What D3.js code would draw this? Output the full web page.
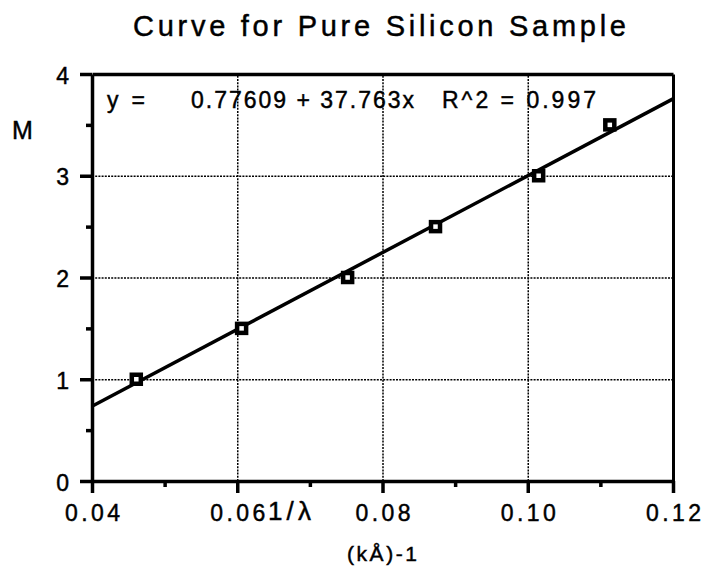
<!DOCTYPE html>
<html>
<head>
<meta charset="utf-8">
<script src="https://cdn.jsdelivr.net/npm/d3@7/dist/d3.min.js"></script>
<style>
  html, body { margin: 0; padding: 0; background: #fff; }
  svg { display: block; font-family: "Liberation Sans", Arial, Helvetica, sans-serif; }
  svg text { fill: #000; stroke: #000; stroke-width: 0.45px; }
</style>
</head>
<body>
<svg id="chart" width="703" height="568"></svg>
<script>
// ---- data ----
const chartTitle = "Curve for Pure Silicon Sample";
const xValues = [0.0461, 0.0606, 0.0752, 0.0873, 0.1015, 0.1113];
const mValues = [1.0, 1.5, 2.0, 2.5, 3.0, 3.5];
const xTicks = [0.04, 0.06, 0.08, 0.10, 0.12];
const xTickLabels = ["0.04", "0.06", "0.08", "0.10", "0.12"];
const xMinorTicks = [0.05, 0.07, 0.09, 0.11];
const yTicks = [0, 1, 2, 3, 4];
const yTickLabels = ["0", "1", "2", "3", "4"];
const yMinorTicks = [0.5, 1.5, 2.5, 3.5];
const xGrid = [0.06, 0.08, 0.10];
const yGrid = [1, 2, 3];
const fitIntercept = -0.77609;
const fitSlope = 37.763;
const fitR2 = 0.997;
const eqLabelY = "y =";
const eqLabelFit = "0.77609 + 37.763x";
const eqLabelR2 = "R^2 = 0.997";
const yAxisTitle = "M";
const xAxisTitle1 = "1/\u03BB";
const xAxisTitle2 = "(k\u00C5)-1";

// ---- layout ----
const margin = { left: 92, top: 74 };
const W = 581, H = 407;
const svg = d3.select("#chart");
svg.append("rect").attr("width", 703).attr("height", 568).attr("fill", "#fff");

const x = d3.scaleLinear().domain([0.04, 0.12]).range([0, W]);
const y = d3.scaleLinear().domain([0, 4]).range([H, 0]);

const g = svg.append("g").attr("transform", `translate(${margin.left},${margin.top})`);

// gridlines
const gx = g.append("g").attr("transform", `translate(0,${H})`)
  .call(d3.axisBottom(x).tickValues(xGrid).tickSize(-H).tickFormat(""));
gx.select(".domain").remove();
gx.selectAll("line").attr("stroke", "#000").attr("stroke-width", 1.5).attr("stroke-dasharray", "2,1.2");
const gy = g.append("g")
  .call(d3.axisLeft(y).tickValues(yGrid).tickSize(-W).tickFormat(""));
gy.select(".domain").remove();
gy.selectAll("line").attr("stroke", "#000").attr("stroke-width", 1.5).attr("stroke-dasharray", "2,1.2");

// frame top and right
const frameTop = g.append("g").call(d3.axisTop(x).tickValues([]).tickSizeOuter(0));
frameTop.select(".domain").attr("stroke", "#000").attr("stroke-width", 3.5);
const frameRight = g.append("g").attr("transform", `translate(${W},0)`).call(d3.axisRight(y).tickValues([]).tickSizeOuter(0));
frameRight.select(".domain").attr("stroke", "#000").attr("stroke-width", 3);

// minor ticks
const xm = g.append("g").attr("transform", `translate(0,${H})`)
  .call(d3.axisBottom(x).tickValues(xMinorTicks).tickSize(6).tickSizeOuter(0).tickFormat(""));
xm.select(".domain").remove();
xm.selectAll("line").attr("stroke", "#000").attr("stroke-width", 3.5);
const ym = g.append("g")
  .call(d3.axisLeft(y).tickValues(yMinorTicks).tickSize(6).tickSizeOuter(0).tickFormat(""));
ym.select(".domain").remove();
ym.selectAll("line").attr("stroke", "#000").attr("stroke-width", 3.5);

// main axes
const xa = g.append("g").attr("transform", `translate(0,${H})`)
  .call(d3.axisBottom(x).tickValues(xTicks).tickSize(12).tickSizeOuter(0)
    .tickFormat((d, i) => xTickLabels[i]));
xa.select(".domain").attr("stroke", "#000").attr("stroke-width", 3.5);
xa.selectAll("line").attr("stroke", "#000").attr("stroke-width", 3.5);
xa.selectAll("text").attr("y", 40).attr("dy", 0)
  .attr("font-size", 23)
  .attr("textLength", 55).attr("lengthAdjust", "spacing")
  .attr("font-family", "'Liberation Sans', Arial, sans-serif");

const ya = g.append("g")
  .call(d3.axisLeft(y).tickValues(yTicks).tickSize(12).tickSizeOuter(0)
    .tickFormat((d, i) => yTickLabels[i]));
ya.select(".domain").attr("stroke", "#000").attr("stroke-width", 3.5);
ya.selectAll("line").attr("stroke", "#000").attr("stroke-width", 3.5);
ya.selectAll("text").attr("x", -23).attr("dy", "0.4em")
  .attr("font-size", 23)
  .attr("font-family", "'Liberation Sans', Arial, sans-serif");

// fit line
const xd = x.domain();
g.append("line")
  .attr("x1", x(xd[0])).attr("y1", y(fitIntercept + fitSlope * xd[0]))
  .attr("x2", x(xd[1])).attr("y2", y(fitIntercept + fitSlope * xd[1]))
  .attr("stroke", "#000").attr("stroke-width", 3.5);

// markers
const s = 9;
g.selectAll("rect.pt").data(xValues.map((v, i) => [v, mValues[i]])).enter()
  .append("rect").attr("class", "pt")
  .attr("x", d => x(d[0]) - s / 2).attr("y", d => y(d[1]) - s / 2)
  .attr("width", s).attr("height", s)
  .attr("fill", "#fff").attr("stroke", "#000").attr("stroke-width", 4.5);

// equation text
const eq = svg.append("g").attr("font-size", 23);
eq.append("text").attr("x", 107).attr("y", 108).attr("textLength", 38).attr("lengthAdjust", "spacing").text(eqLabelY);
eq.append("text").attr("x", 191).attr("y", 108).attr("textLength", 223).attr("lengthAdjust", "spacing").text(eqLabelFit);
eq.append("text").attr("x", 442).attr("y", 108).attr("textLength", 154).attr("lengthAdjust", "spacing").text(eqLabelR2);

// titles
svg.append("text").attr("x", 133).attr("y", 36).attr("font-size", 29)
  .attr("textLength", 493).attr("lengthAdjust", "spacing").text(chartTitle);
svg.append("text").attr("x", 12).attr("y", 139).attr("font-size", 25).text(yAxisTitle);
svg.append("text").attr("x", 268).attr("y", 520).attr("font-size", 26)
  .attr("textLength", 43).attr("lengthAdjust", "spacing").text(xAxisTitle1);
svg.append("text").attr("x", 347).attr("y", 561).attr("font-size", 21)
  .attr("textLength", 70).attr("lengthAdjust", "spacing").text(xAxisTitle2);
</script>
</body>
</html>
